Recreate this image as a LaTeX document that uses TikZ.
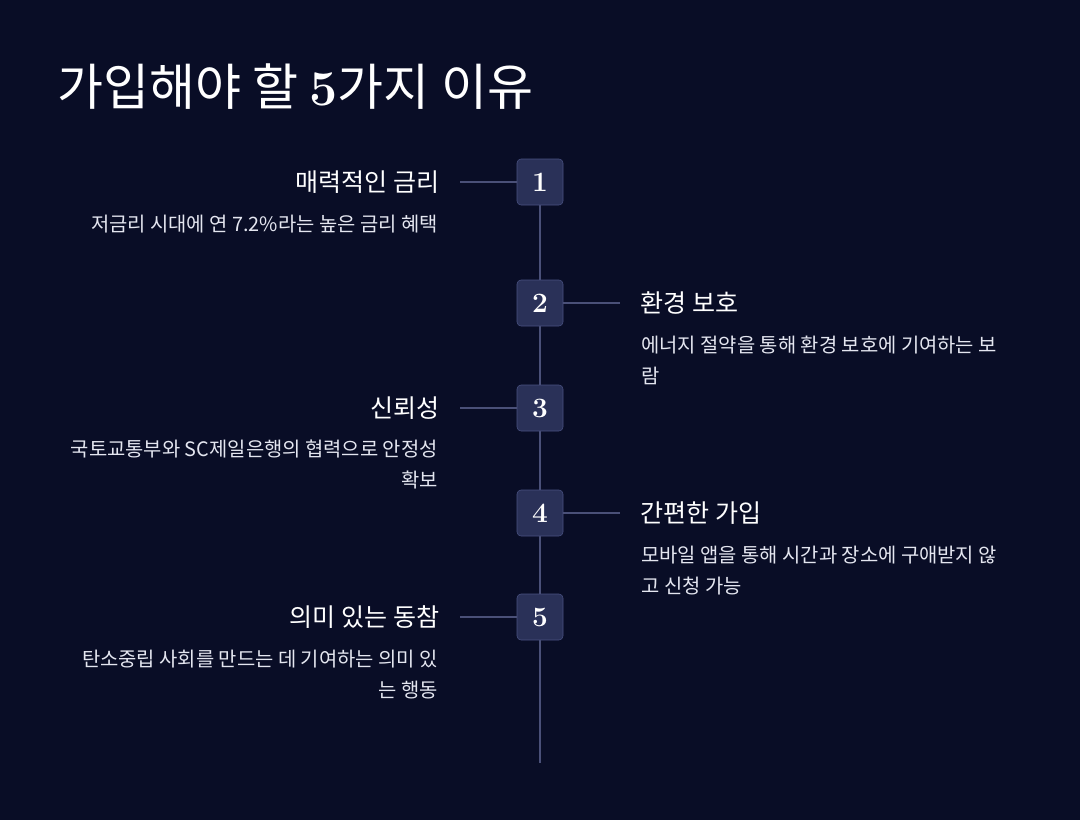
\documentclass[tikz,border=0pt]{standalone}
\usepackage{fontspec}
\setmainfont{Noto Sans CJK KR}
\newfontfamily\numfont{Latin Modern Roman}
\definecolor{bg}{HTML}{090D26}
\definecolor{boxfill}{HTML}{2A3158}
\definecolor{boxdraw}{HTML}{4A5282}
\definecolor{linec}{HTML}{4A5078}
\definecolor{desc}{HTML}{E4E6F0}
\tikzset{
 numbox/.style={draw=boxdraw,fill=boxfill,rounded corners=3pt,minimum size=34.5pt,inner sep=0pt,text=white,font=\numfont\bfseries\fontsize{21}{24}\selectfont},
 conn/.style={draw=linec,line width=1.5pt},
 headL/.style={anchor=east,text=white,font=\fontsize{18.8}{22}\selectfont},
 headR/.style={anchor=west,text=white,font=\fontsize{18.8}{22}\selectfont},
 descL/.style={anchor=north east,align=right,text=desc,inner sep=0pt,font=\fontsize{14.9}{23}\selectfont},
 descR/.style={anchor=north west,align=left,text=desc,inner sep=0pt,font=\fontsize{14.9}{23}\selectfont},
}
\begin{document}
\begin{tikzpicture}[x=0.75pt,y=-0.75pt]
\fill[bg] (0,0) rectangle (1080,820);
\useasboundingbox (0,0) rectangle (1080,820);
\node[anchor=west,text=white,inner sep=0pt,font=\fontsize{37.5}{44}\selectfont] (title) at (57,87) {가입해야 할 {\numfont\bfseries 5}가지 이유};
\coordinate (top) at (540,182);
\coordinate (bot) at (540,763);
\draw[conn] (top) -- (bot);
\foreach \i/\y in {1/182,2/303,3/408,4/513,5/617}{
 \node[numbox] (n\i) at (540,\y) {\i};
}
% left items
\coordinate (l1) at (460,182); \draw[conn] (l1) -- (n1.west);
\node[headL] (h1) at (444,182) {매력적인 금리};
\node[descL] (d1) at (438,215) {저금리 시대에 연 7.2\%라는 높은 금리 혜택};
\coordinate (l3) at (460,408); \draw[conn] (l3) -- (n3.west);
\node[headL] (h3) at (444,408) {신뢰성};
\node[descL] (d3) at (438,440) {국토교통부와 SC제일은행의 협력으로 안정성\\확보};
\coordinate (l5) at (460,617); \draw[conn] (l5) -- (n5.west);
\node[headL] (h5) at (444,617) {의미 있는 동참};
\node[descL] (d5) at (438,650) {탄소중립 사회를 만드는 데 기여하는 의미 있\\는 행동};
% right items
\coordinate (r2) at (620,303); \draw[conn] (n2.east) -- (r2);
\node[headR] (h2) at (636,303) {환경 보호};
\node[descR] (d2) at (641,336) {에너지 절약을 통해 환경 보호에 기여하는 보\\람};
\coordinate (r4) at (620,513); \draw[conn] (n4.east) -- (r4);
\node[headR] (h4) at (636,513) {간편한 가입};
\node[descR] (d4) at (641,546) {모바일 앱을 통해 시간과 장소에 구애받지 않\\고 신청 가능};
\end{tikzpicture}
\end{document}
